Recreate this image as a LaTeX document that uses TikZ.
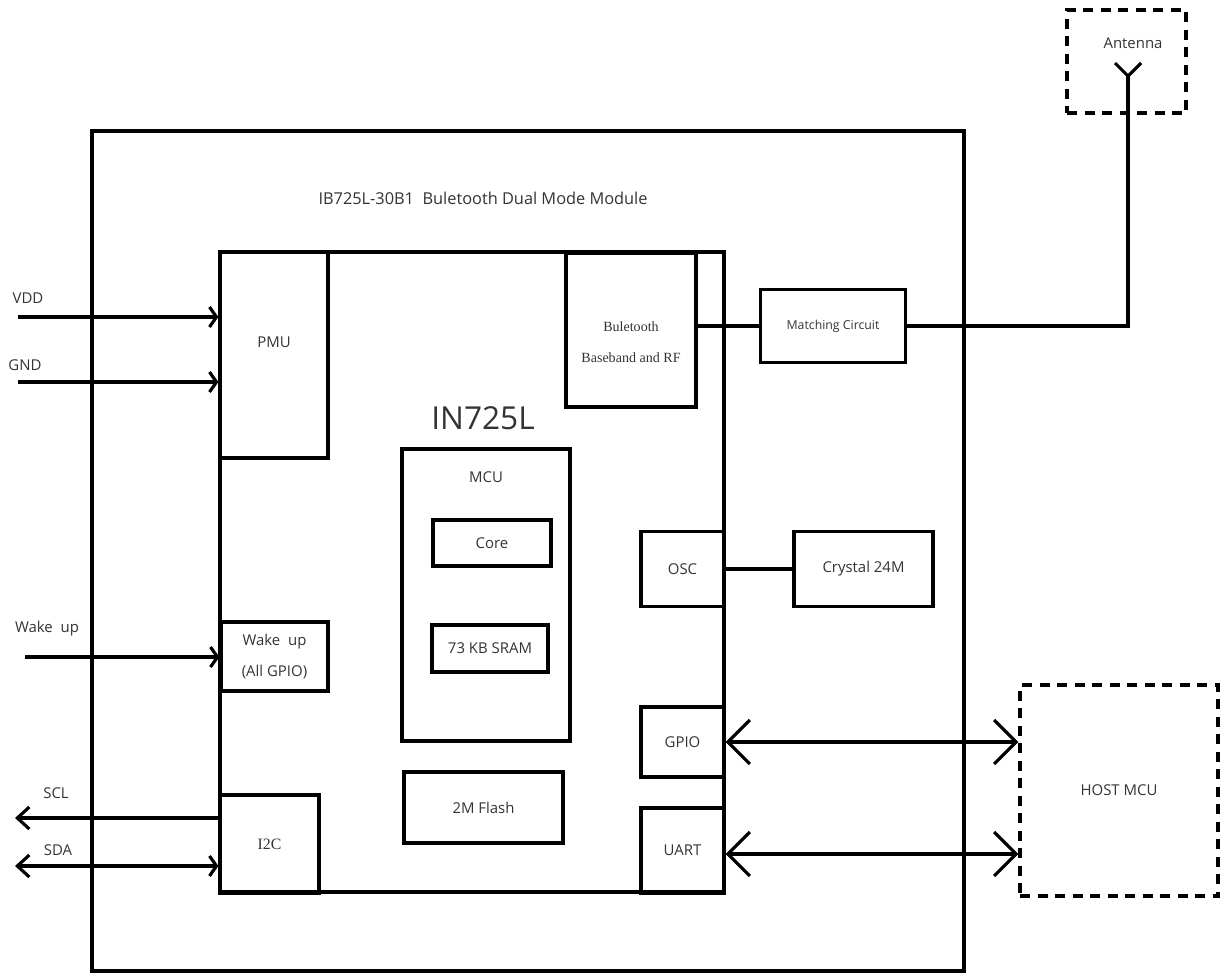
\documentclass[tikz,border=0pt]{standalone}
\usepackage{fontspec}
\setmainfont{Open Sans}
\newfontfamily\boxserif{Liberation Serif}
\usetikzlibrary{positioning, arrows.meta, calc}
\definecolor{lbltext}{HTML}{333333}
\tikzset{
  blk/.style={draw, line width=1.8pt, inner sep=0pt, text=lbltext,
              font=\fontsize{8.5}{10}\selectfont},
  dashblk/.style={blk, dash pattern=on 2mm off 1.5mm},
  lbl/.style={text=lbltext, font=\fontsize{8.5}{10}\selectfont},
  wire/.style={line width=1.8pt},
  pin/.style={wire, -{Straight Barb[length=1.4mm, width=4mm]}},
  pinout/.style={wire, -{Straight Barb[length=2.4mm, width=4.4mm]}},
  pinboth/.style={wire, {Straight Barb[length=2.4mm, width=4.4mm]}-{Straight Barb[length=1.4mm, width=4mm]}},
  bus/.style={wire, {Straight Barb[length=4.4mm, width=8.8mm]}-{Straight Barb[length=4.4mm, width=8.8mm]}}
}

\begin{document}
\begin{tikzpicture}[x=0.2mm, y=-0.2mm]
  \useasboundingbox (0,0) rectangle (1221,974);

  % module and chip
  \node[blk, minimum width=174.4mm, minimum height=168mm] (module) at (528,551) {};
  \node[lbl, font=\fontsize{9.3}{11}\selectfont] (modname) at (483,198) {IB725L-30B1\ \ Buletooth Dual Mode Module};
  \node[blk, minimum width=100.8mm, minimum height=128mm] (chip) at (472,572) {};
  \node[lbl, font=\fontsize{18}{20}\selectfont] (chipname) at (483,418) {IN725L};

  % blocks inside the chip
  \node[blk, minimum width=21.6mm, minimum height=41.2mm,
        label={[lbl, yshift=2.6mm]center:PMU}] (pmu) at (274,355) {};
  \node[blk, minimum width=26mm, minimum height=30.8mm,
        label={[lbl, font=\boxserif\fontsize{8}{17.5}\selectfont, align=center, yshift=-2.4mm]center:Buletooth\\Baseband and RF}] (bt) at (631,330) {};
  \node[blk, minimum width=33.6mm, minimum height=58.4mm,
        label={[lbl, anchor=center, yshift=-6mm]north:MCU}] (mcu) at (486,595) {};
  \node[blk, minimum width=23.6mm, minimum height=9.2mm] (core) at (492,543) {Core};
  \node[blk, minimum width=23.2mm, minimum height=9.4mm] (sram) at (490,648.5) {73 KB SRAM};
  \node[blk, minimum width=31.8mm, minimum height=14.2mm] (flash) at (483.5,807.5) {2M Flash};
  \node[blk, minimum width=16.6mm, minimum height=15mm] (osc) at (682.5,569) {OSC};
  \node[blk, minimum width=16.6mm, minimum height=14mm] (gpio) at (682.5,742) {GPIO};
  \node[blk, minimum width=16.6mm, minimum height=17mm] (uart) at (682.5,850.5) {UART};
  \node[blk, minimum width=21.4mm, minimum height=13.8mm, align=center,
        font=\fontsize{8.5}{17.5}\selectfont] (wake) at (274.5,656.5) {Wake\ \ up\\(All GPIO)};
  \node[blk, minimum width=19.8mm, minimum height=19.6mm,
        font=\boxserif\fontsize{9}{11}\selectfont] (i2c) at (269.5,844) {I2C};

  % blocks on the module
  \node[blk, minimum width=29mm, minimum height=14.6mm,
        font=\fontsize{7}{9}\selectfont] (match) at (833,326) {Matching Circuit};
  \node[blk, minimum width=27.8mm, minimum height=15mm] (crystal) at (863.5,569) {Crystal 24M};

  % outside
  \node[dashblk, minimum width=23.8mm, minimum height=20.6mm] (antbox) at (1126.5,61.5) {};
  \node[lbl] (antlbl) at (1133,43) {Antenna};
  \coordinate (antfeed) at (1128,76);
  \draw[wire] ($(antfeed)+(-13,-13)$) -- (antfeed) -- ($(antfeed)+(13,-13)$);
  \node[dashblk, minimum width=39.6mm, minimum height=42.2mm] (host) at (1119,790.5) {HOST MCU};

  % connections
  \draw[wire] (bt.east |- match.west) -- (match.west);
  \draw[wire] (match.east) -| (antfeed);
  \draw[wire] (osc.east) -- (crystal.west);
  \draw[bus] (gpio.east) -- (gpio.east -| host.west);
  \draw[bus] ([yshift=-0.7mm]uart.east) -- ([yshift=-0.7mm]uart.east -| host.west);

  % pins on the left
  \node[lbl] (vddlbl) at (28,298) {VDD};
  \coordinate (vddin) at (18,317);
  \draw[pin] (vddin) -- (vddin -| pmu.west);
  \node[lbl] (gndlbl) at (25,365) {GND};
  \coordinate (gndin) at (18,382);
  \draw[pin] (gndin) -- (gndin -| pmu.west);
  \node[lbl] (wakelbl) at (47,629) {Wake\ \ up};
  \coordinate (wakein) at (25,657);
  \draw[pin] (wakein) -- (wakein -| wake.west);
  \node[lbl] (scllbl) at (56,793) {SCL};
  \coordinate (sclout) at (15,818);
  \draw[pinout] (sclout -| i2c.west) -- (sclout);
  \node[lbl] (sdalbl) at (58,850) {SDA};
  \coordinate (sdaout) at (15,866);
  \draw[pinboth] (sdaout) -- (sdaout -| i2c.west);
\end{tikzpicture}
\end{document}
